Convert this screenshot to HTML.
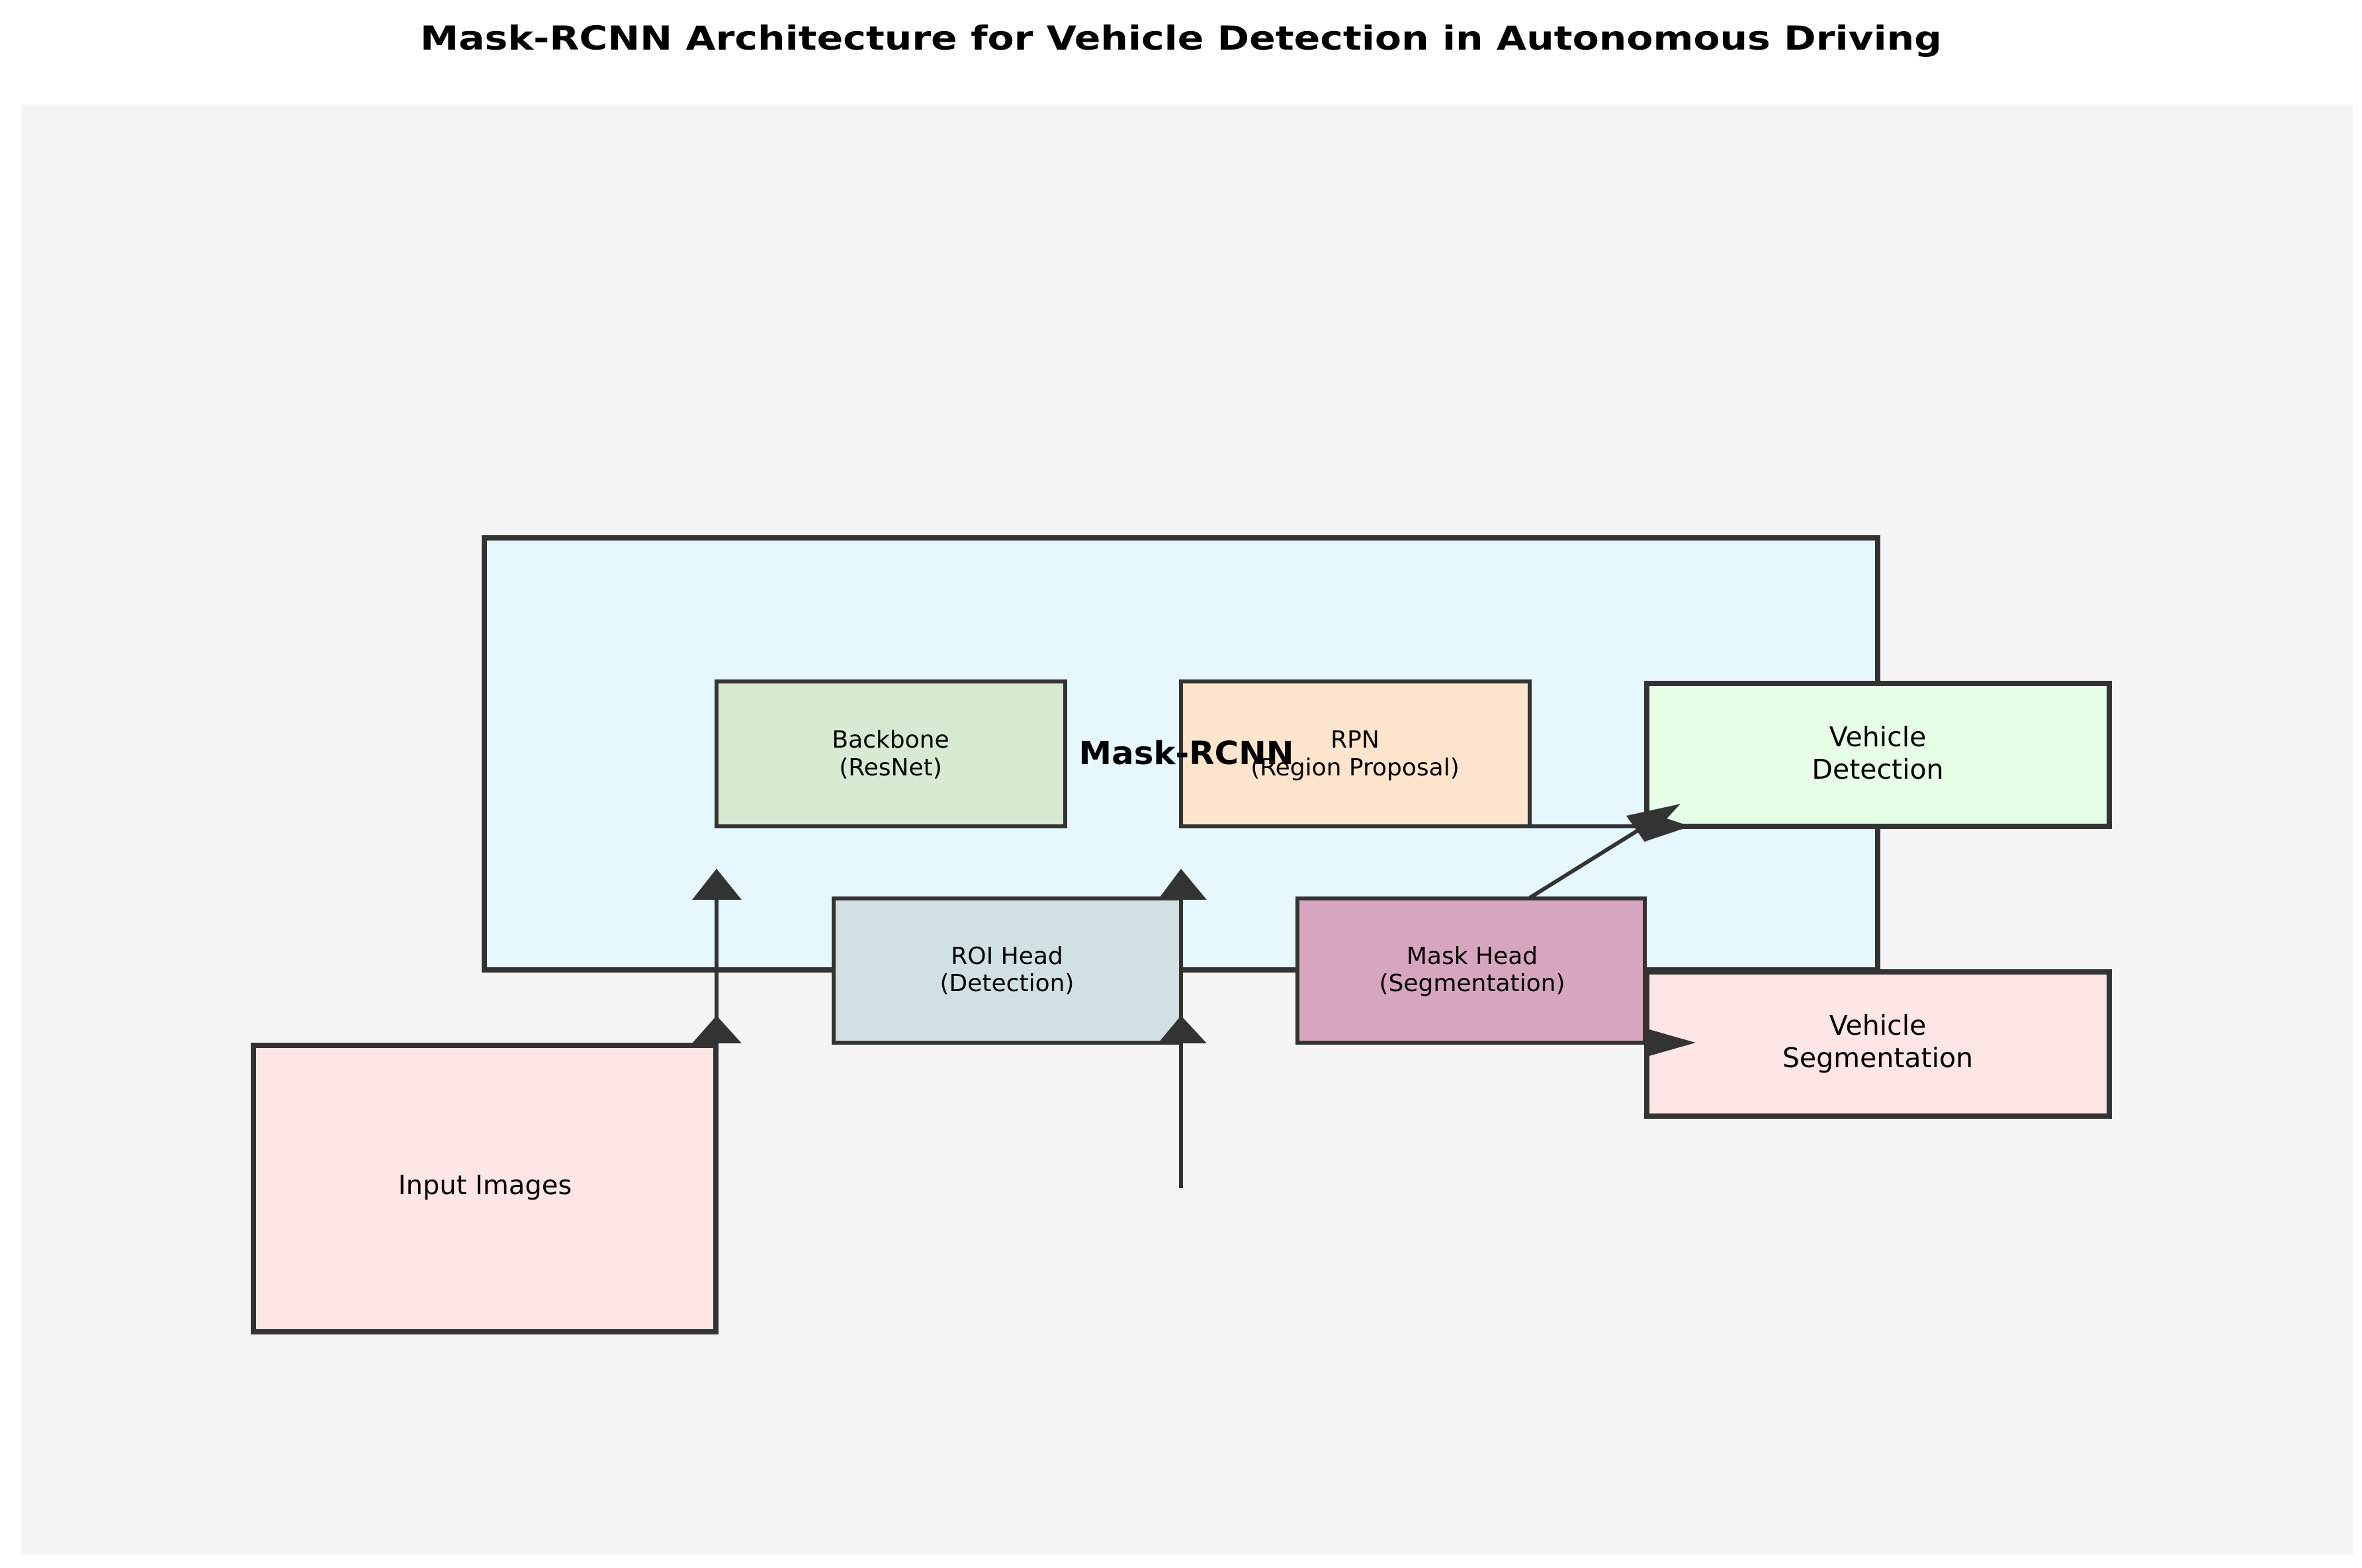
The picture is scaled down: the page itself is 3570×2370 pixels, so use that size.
<!DOCTYPE html>
<html><head><meta charset="utf-8"><style>html,body{margin:0;padding:0;background:#fff}svg{display:block}</style></head>
<body>
<svg width="3570" height="2370" viewBox="0 0 3570 2370" xmlns="http://www.w3.org/2000/svg" font-family="DejaVu Sans, Liberation Sans, sans-serif">
<rect x="0" y="0" width="3570" height="2370" fill="#ffffff"/>
<text x="1785" y="75" text-anchor="middle" font-size="50" font-weight="bold" textLength="2300" lengthAdjust="spacingAndGlyphs">Mask-RCNN Architecture for Vehicle Detection in Autonomous Driving</text>
<rect x="32" y="158" width="3524" height="2192" fill="#f5f5f5"/>
<g stroke="#333" fill="none">
<rect x="732" y="813" width="2106" height="653" fill="#e6f7ff" stroke-width="8"/>
<rect x="1083" y="1030" width="527" height="219" fill="#d9ead3" stroke-width="6"/>
<rect x="1785" y="1030" width="527" height="219" fill="#fde5cd" stroke-width="6"/>
<rect x="1260" y="1358" width="525" height="218" fill="#d0e0e3" stroke-width="6"/>
<rect x="1961" y="1358" width="525" height="218" fill="#d5a6bd" stroke-width="6"/>
<rect x="2489" y="1033" width="699" height="216" fill="#e6ffe6" stroke-width="8"/>
<rect x="2489" y="1469" width="699" height="218" fill="#ffe6e6" stroke-width="8"/>
<rect x="383" y="1580" width="699" height="433" fill="#ffe6e6" stroke-width="8"/>
<line x1="1083" y1="1580" x2="1083" y2="1340" stroke-width="6"/>
<line x1="1785" y1="1796" x2="1785" y2="1340" stroke-width="6"/>
<line x1="2312" y1="1249" x2="2500" y2="1249" stroke-width="6"/>
<line x1="2312" y1="1576" x2="2500" y2="1576" stroke-width="6"/>
<line x1="2312" y1="1357" x2="2500" y2="1240" stroke-width="6"/>
</g>
<g fill="#333">
<polygon points="1083,1313 1046,1360 1121,1360"/>
<polygon points="1083,1535 1046,1577 1121,1577"/>
<polygon points="1785,1313 1750,1360 1824,1360"/>
<polygon points="1785,1535 1750,1577 1824,1577"/>
<polygon points="2540,1215 2458,1233 2486,1273"/>
<polygon points="2555,1249 2486,1226 2486,1272"/>
<polygon points="2563,1576 2486,1554 2486,1598"/>
</g>
<g font-size="36" text-anchor="middle" fill="#000">
<text x="1346" y="1130">Backbone</text><text x="1346" y="1172">(ResNet)</text>
<text x="2048" y="1130">RPN</text><text x="2048" y="1172">(Region Proposal)</text>
<text x="1522" y="1457">ROI Head</text><text x="1522" y="1498">(Detection)</text>
<text x="2225" y="1457">Mask Head</text><text x="2225" y="1498">(Segmentation)</text>
<text x="733" y="1805" font-size="40">Input Images</text>
</g>
<g font-size="41" text-anchor="middle" fill="#000">
<text x="2838" y="1128">Vehicle</text><text x="2838" y="1177">Detection</text>
<text x="2838" y="1564">Vehicle</text><text x="2838" y="1613">Segmentation</text>
</g>
<text x="1793" y="1155" font-size="48" font-weight="bold" text-anchor="middle" textLength="325" lengthAdjust="spacingAndGlyphs">Mask-RCNN</text>
</svg>
</body></html>
